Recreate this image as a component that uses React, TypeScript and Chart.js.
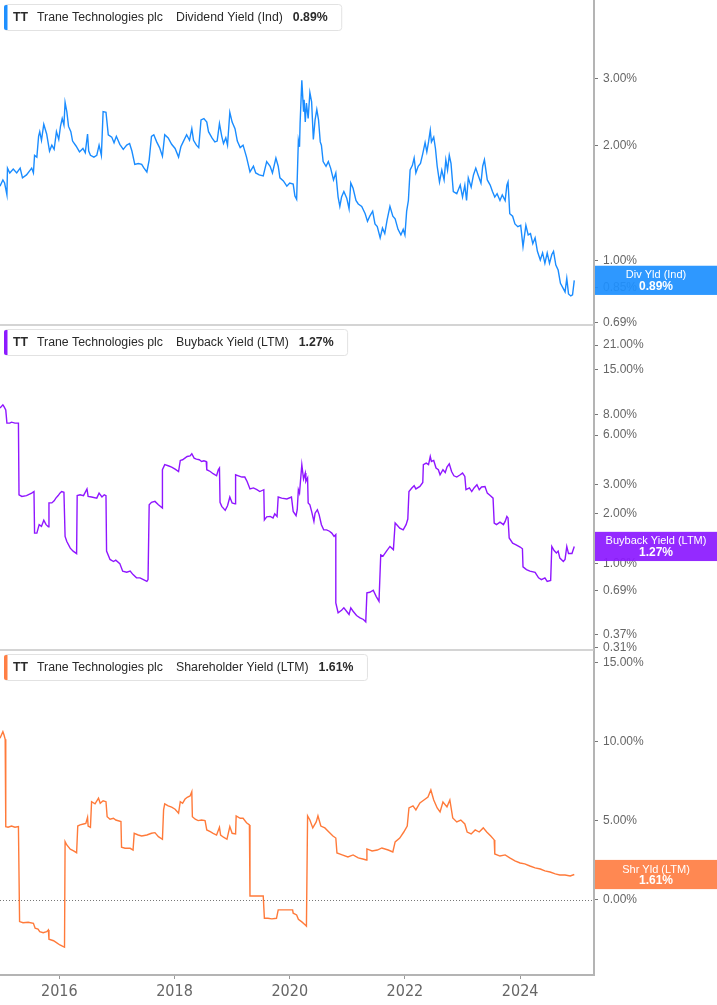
import React, { useEffect, useRef } from 'react';
import { Chart, registerables } from 'chart.js';

Chart.register(...registerables);

// ---------- DATA (decimal year, percent) ----------
const dividendYield: [number, number][] = [
  [2014.97,1.57],[2015.02,1.63],[2015.05,1.60],[2015.09,1.49],[2015.10,1.75],[2015.14,1.70],[2015.20,1.74],[2015.26,1.70],[2015.32,1.75],[2015.36,1.65],[2015.43,1.68],[2015.52,1.75],[2015.55,1.70],[2015.57,1.89],[2015.61,1.87],[2015.64,2.12],[2015.66,2.18],[2015.69,2.07],[2015.73,2.28],[2015.78,2.15],[2015.83,1.94],[2015.87,2.01],[2015.91,1.96],[2015.95,2.18],[2015.99,2.08],
  [2016.02,2.25],[2016.05,2.36],[2016.08,2.27],[2016.10,2.60],[2016.13,2.46],[2016.16,2.25],[2016.20,2.18],[2016.23,2.06],[2016.29,2.00],[2016.35,1.93],[2016.41,1.97],[2016.45,1.92],[2016.49,2.15],[2016.51,1.94],[2016.54,1.89],[2016.60,1.87],[2016.65,1.89],[2016.69,2.01],[2016.73,1.89],[2016.76,2.46],[2016.81,2.45],[2016.85,2.14],[2016.91,2.11],[2016.95,2.04],[2016.99,2.12],
  [2017.05,2.02],[2017.11,1.96],[2017.17,2.01],[2017.22,2.03],[2017.26,1.94],[2017.31,1.79],[2017.37,1.80],[2017.43,1.79],[2017.47,1.75],[2017.52,1.71],[2017.56,1.84],[2017.60,2.12],[2017.64,2.14],[2017.69,2.05],[2017.74,1.98],[2017.79,1.88],[2017.83,2.14],[2017.89,2.10],[2017.95,2.02],
  [2018.01,1.97],[2018.07,1.87],[2018.11,1.99],[2018.15,2.05],[2018.21,2.14],[2018.26,2.07],[2018.30,2.22],[2018.33,2.07],[2018.38,2.01],[2018.42,1.98],[2018.46,2.34],[2018.51,2.36],[2018.56,2.31],[2018.59,2.18],[2018.65,2.10],[2018.70,2.05],[2018.74,2.06],[2018.78,2.29],[2018.82,2.12],[2018.85,2.03],[2018.89,2.10],[2018.92,2.01],[2018.96,2.45],
  [2019.00,2.31],[2019.05,2.22],[2019.09,2.06],[2019.14,1.98],[2019.19,2.01],[2019.25,1.87],[2019.31,1.71],[2019.37,1.77],[2019.41,1.70],[2019.47,1.68],[2019.54,1.67],[2019.60,1.82],[2019.66,1.77],[2019.70,1.70],[2019.76,1.86],[2019.80,1.77],[2019.83,1.65],[2019.89,1.62],[2019.95,1.57],
  [2020.00,1.60],[2020.06,1.59],[2020.09,1.48],[2020.12,1.45],[2020.15,2.07],[2020.17,1.99],[2020.18,2.29],[2020.21,2.97],[2020.24,2.46],[2020.25,2.64],[2020.27,2.31],[2020.29,2.59],[2020.32,2.36],[2020.35,2.76],[2020.38,2.61],[2020.41,2.08],[2020.44,2.34],[2020.47,2.49],[2020.50,2.34],[2020.53,2.05],[2020.55,2.01],[2020.58,1.82],[2020.63,1.77],[2020.67,1.82],[2020.71,1.75],[2020.76,1.63],[2020.80,1.70],[2020.84,1.47],[2020.87,1.39],[2020.90,1.47],[2020.94,1.52],[2020.99,1.46],
  [2021.03,1.37],[2021.06,1.60],[2021.10,1.55],[2021.15,1.44],[2021.19,1.41],[2021.25,1.39],[2021.31,1.33],[2021.35,1.27],[2021.39,1.31],[2021.44,1.35],[2021.48,1.25],[2021.52,1.23],[2021.57,1.15],[2021.61,1.22],[2021.65,1.18],[2021.69,1.28],[2021.74,1.39],[2021.79,1.31],[2021.83,1.29],[2021.88,1.21],[2021.93,1.17],[2021.97,1.21],
  [2022.00,1.17],[2022.03,1.35],[2022.06,1.44],[2022.09,1.73],[2022.13,1.78],[2022.16,1.86],[2022.19,1.70],[2022.23,1.77],[2022.27,1.80],[2022.31,1.91],[2022.35,2.04],[2022.38,1.93],[2022.41,2.05],[2022.44,2.20],[2022.46,2.05],[2022.50,2.11],[2022.53,1.97],[2022.56,1.77],[2022.60,1.61],[2022.64,1.73],[2022.68,1.63],[2022.71,1.84],[2022.74,1.73],[2022.77,1.89],[2022.80,1.80],[2022.84,1.52],[2022.90,1.50],[2022.96,1.58],
  [2023.00,1.47],[2023.04,1.58],[2023.07,1.44],[2023.10,1.65],[2023.15,1.56],[2023.19,1.68],[2023.23,1.75],[2023.27,1.68],[2023.32,1.60],[2023.35,1.77],[2023.38,1.84],[2023.43,1.63],[2023.48,1.58],[2023.52,1.52],[2023.56,1.47],[2023.60,1.50],[2023.65,1.44],[2023.69,1.49],[2023.74,1.44],[2023.77,1.58],[2023.79,1.61],[2023.82,1.33],[2023.87,1.31],[2023.91,1.25],[2023.96,1.23],
  [2024.01,1.24],[2024.05,1.09],[2024.10,1.24],[2024.14,1.17],[2024.18,1.18],[2024.22,1.11],[2024.26,1.15],[2024.30,1.06],[2024.35,1.006],[2024.39,1.05],[2024.43,0.986],[2024.47,1.05],[2024.51,0.986],[2024.55,1.04],[2024.58,1.06],[2024.62,0.976],[2024.66,0.947],[2024.70,0.874],[2024.75,0.847],[2024.78,0.83],[2024.81,0.90],[2024.84,0.82],[2024.88,0.81],[2024.91,0.815],[2024.94,0.89],
];

const buybackYield: [number, number][] = [
  [2014.97,8.73],[2015.02,9.14],[2015.04,8.92],[2015.07,8.52],[2015.09,7.08],[2015.14,7.08],[2015.17,7.18],[2015.23,7.08],[2015.29,7.08],[2015.30,2.61],[2015.35,2.55],[2015.43,2.58],[2015.52,2.67],[2015.56,2.73],[2015.57,1.53],[2015.61,1.53],[2015.65,1.72],[2015.69,1.68],[2015.73,1.83],[2015.77,1.72],[2015.81,1.67],[2015.82,2.33],[2015.87,2.33],[2015.91,2.40],[2015.94,2.49],[2015.98,2.58],
  [2016.01,2.67],[2016.04,2.73],[2016.08,2.70],[2016.10,1.46],[2016.13,1.36],[2016.19,1.24],[2016.24,1.19],[2016.30,1.15],[2016.31,2.58],[2016.36,2.61],[2016.42,2.58],[2016.48,2.83],[2016.50,2.55],[2016.56,2.53],[2016.65,2.49],[2016.69,2.67],[2016.74,2.53],[2016.78,2.61],[2016.81,2.58],[2016.82,1.19],[2016.88,1.06],[2016.94,1.03],[2016.98,1.05],
  [2017.05,1.00],[2017.10,0.90],[2017.17,0.886],[2017.23,0.90],[2017.28,0.858],[2017.34,0.82],[2017.40,0.82],[2017.46,0.80],[2017.52,0.78],[2017.54,0.80],[2017.56,2.27],[2017.60,2.35],[2017.66,2.38],[2017.72,2.27],[2017.79,2.17],[2017.79,3.70],[2017.83,3.97],[2017.89,3.91],[2017.95,3.84],
  [2018.01,3.73],[2018.07,3.61],[2018.10,4.21],[2018.14,4.25],[2018.18,4.35],[2018.22,4.45],[2018.27,4.49],[2018.30,4.62],[2018.34,4.35],[2018.38,4.29],[2018.43,4.25],[2018.47,4.15],[2018.51,4.19],[2018.55,4.15],[2018.56,3.70],[2018.62,3.61],[2018.67,3.50],[2018.73,3.40],[2018.76,3.70],[2018.78,3.79],[2018.79,2.35],[2018.82,2.22],[2018.88,2.10],[2018.92,2.24],[2018.96,2.53],
  [2019.00,2.33],[2019.05,2.30],[2019.06,3.45],[2019.11,3.40],[2019.17,3.34],[2019.22,3.34],[2019.26,3.14],[2019.31,2.83],[2019.37,2.87],[2019.43,2.80],[2019.48,2.73],[2019.55,2.80],[2019.56,1.84],[2019.60,1.92],[2019.66,1.93],[2019.71,1.89],[2019.74,2.00],[2019.78,1.93],[2019.80,2.53],[2019.86,2.49],[2019.95,2.46],
  [2020.03,2.53],[2020.06,2.07],[2020.11,1.95],[2020.13,2.12],[2020.15,2.80],[2020.17,2.67],[2020.21,3.97],[2020.24,3.25],[2020.27,3.53],[2020.28,3.14],[2020.31,3.30],[2020.32,2.33],[2020.35,2.27],[2020.38,2.07],[2020.42,1.80],[2020.44,2.02],[2020.48,2.12],[2020.51,1.98],[2020.55,1.72],[2020.59,1.60],[2020.64,1.60],[2020.69,1.57],[2020.73,1.53],[2020.77,1.46],[2020.80,1.50],[2020.80,0.579],[2020.84,0.504],[2020.90,0.522],[2020.94,0.54],
  [2021.00,0.508],[2021.03,0.492],[2021.06,0.54],[2021.10,0.515],[2021.16,0.485],[2021.22,0.47],[2021.28,0.459],[2021.32,0.444],[2021.34,0.665],[2021.39,0.671],[2021.45,0.69],[2021.50,0.634],[2021.55,0.592],[2021.58,1.13],[2021.62,1.11],[2021.68,1.19],[2021.74,1.27],[2021.80,1.215],[2021.83,1.76],[2021.87,1.70],[2021.91,1.64],[2021.97,1.60],
  [2022.02,1.72],[2022.05,1.86],[2022.07,2.73],[2022.12,2.87],[2022.16,2.96],[2022.19,2.83],[2022.26,2.93],[2022.31,3.10],[2022.32,3.97],[2022.37,4.06],[2022.41,3.97],[2022.44,4.45],[2022.46,4.15],[2022.50,4.21],[2022.54,3.79],[2022.58,3.70],[2022.61,3.45],[2022.66,3.70],[2022.70,3.56],[2022.73,3.84],[2022.77,4.02],[2022.81,3.61],[2022.85,3.40],[2022.90,3.34],[2022.96,3.45],
  [2023.00,3.53],[2023.04,3.37],[2023.06,2.80],[2023.12,2.87],[2023.16,2.73],[2023.20,2.87],[2023.25,3.00],[2023.29,2.80],[2023.33,2.91],[2023.39,2.93],[2023.43,2.67],[2023.48,2.58],[2023.53,2.49],[2023.55,1.76],[2023.59,1.72],[2023.65,1.78],[2023.71,1.72],[2023.74,1.80],[2023.77,1.93],[2023.79,1.89],[2023.81,1.43],[2023.87,1.33],[2023.93,1.30],
  [2024.00,1.26],[2024.04,1.23],[2024.05,0.955],[2024.11,0.92],[2024.17,0.90],[2024.26,0.886],[2024.32,0.82],[2024.37,0.80],[2024.43,0.82],[2024.47,0.78],[2024.53,0.79],[2024.55,1.27],[2024.59,1.20],[2024.63,1.16],[2024.66,1.19],[2024.69,1.08],[2024.75,1.03],[2024.78,1.06],[2024.81,1.27],[2024.84,1.15],[2024.90,1.15],[2024.94,1.27],
];

const shareholderYield: [number, number][] = [
  [2014.97,10.23],[2015.02,10.65],[2015.04,10.44],[2015.06,10.17],[2015.07,4.64],[2015.11,4.60],[2015.17,4.68],[2015.23,4.60],[2015.29,4.64],[2015.31,-1.37],[2015.37,-1.44],[2015.46,-1.41],[2015.55,-1.48],[2015.58,-1.79],[2015.63,-1.85],[2015.66,-2.01],[2015.72,-2.07],[2015.78,-2.01],[2015.81,-1.90],[2015.82,-2.49],[2015.90,-2.58],[2015.95,-2.70],
  [2016.01,-2.85],[2016.07,-2.96],[2016.09,-2.99],[2016.10,3.69],[2016.13,3.48],[2016.19,3.21],[2016.24,3.12],[2016.30,2.99],[2016.32,4.68],[2016.36,4.75],[2016.42,4.81],[2016.46,4.85],[2016.49,5.23],[2016.50,4.68],[2016.54,4.60],[2016.56,6.22],[2016.62,6.08],[2016.68,6.44],[2016.71,6.12],[2016.76,6.28],[2016.81,6.22],[2016.83,5.27],[2016.88,5.11],[2016.94,5.17],[2016.98,5.06],
  [2017.07,4.96],[2017.08,3.34],[2017.14,3.27],[2017.23,3.27],[2017.28,3.16],[2017.30,4.22],[2017.37,4.11],[2017.43,4.05],[2017.52,4.11],[2017.60,4.22],[2017.66,4.26],[2017.72,4.01],[2017.79,3.84],[2017.81,5.70],[2017.83,6.08],[2017.89,5.95],[2017.95,5.87],
  [2018.01,5.74],[2018.07,5.49],[2018.10,6.22],[2018.14,6.12],[2018.18,6.37],[2018.22,6.50],[2018.27,6.58],[2018.30,6.85],[2018.31,5.27],[2018.36,5.11],[2018.41,5.02],[2018.47,5.06],[2018.53,5.02],[2018.56,4.43],[2018.62,4.32],[2018.67,4.22],[2018.73,4.11],[2018.78,4.60],[2018.80,4.11],[2018.85,3.97],[2018.91,3.84],[2018.96,4.64],
  [2019.00,4.22],[2019.06,4.18],[2019.07,5.32],[2019.14,5.17],[2019.19,5.17],[2019.25,4.89],[2019.30,4.75],[2019.31,0.25],[2019.43,0.25],[2019.54,0.25],[2019.56,-1.16],[2019.62,-1.16],[2019.69,-1.20],[2019.77,-1.16],[2019.80,-0.63],[2019.92,-0.63],
  [2020.05,-0.63],[2020.06,-0.84],[2020.12,-0.95],[2020.15,-1.22],[2020.21,-1.39],[2020.27,-1.58],[2020.29,-1.65],[2020.31,5.32],[2020.35,5.06],[2020.40,4.56],[2020.46,4.94],[2020.49,5.32],[2020.54,4.68],[2020.61,4.56],[2020.68,4.30],[2020.75,4.05],[2020.80,3.92],[2020.82,2.97],[2020.91,2.85],
  [2021.01,2.72],[2021.10,2.85],[2021.19,2.66],[2021.27,2.59],[2021.33,2.53],[2021.34,3.23],[2021.43,3.10],[2021.52,3.16],[2021.60,3.29],[2021.71,3.16],[2021.79,3.04],[2021.83,3.67],[2021.91,3.92],[2021.98,4.30],
  [2022.04,4.68],[2022.07,5.82],[2022.14,5.95],[2022.19,5.70],[2022.26,6.14],[2022.33,6.33],[2022.40,6.52],[2022.45,6.96],[2022.50,6.33],[2022.56,5.82],[2022.61,5.57],[2022.66,6.20],[2022.73,5.89],[2022.78,6.33],[2022.83,5.19],[2022.90,4.94],[2022.97,5.06],
  [2023.04,4.81],[2023.08,4.30],[2023.15,4.18],[2023.22,4.43],[2023.29,4.30],[2023.36,4.56],[2023.42,4.30],[2023.49,4.05],[2023.55,3.80],[2023.56,2.91],[2023.65,2.78],[2023.74,2.85],[2023.82,2.66],[2023.91,2.47],
  [2024.00,2.34],[2024.08,2.28],[2024.17,2.15],[2024.26,2.03],[2024.35,1.96],[2024.43,1.84],[2024.52,1.77],[2024.61,1.65],[2024.69,1.58],[2024.78,1.58],[2024.87,1.52],[2024.94,1.61],
];

const yearTicks = [2016, 2018, 2020, 2022, 2024];
const dividendTicks = [0.69, 0.85, 1, 2, 3];
const buybackTicks = [0.31, 0.37, 0.69, 1, 2, 3, 6, 8, 15, 21];
const shareholderTicks = [0, 5, 10, 15];

const ticker = 'TT';
const company = 'Trane Technologies plc';
const panelTitles = ['Dividend Yield (Ind)', 'Buyback Yield (LTM)', 'Shareholder Yield (LTM)'];
const panelShort = ['Div Yld (Ind)', 'Buyback Yield (LTM)', 'Shr Yld (LTM)'];
const panelColors = ['#1e90ff', '#8c1aff', '#ff7f45'];
const lineColors = ['#1a8cff', '#8f16ff', '#ff7a3a'];

const FONT = "'Liberation Sans', Arial, sans-serif";
const YEAR_FONT = "'Liberation Sans Narrow', 'DejaVu Sans Condensed', 'Liberation Sans', sans-serif";

const fixTicks = (values: number[]) => (scale: any) => {
  scale.ticks = values.map((v) => ({ value: v }));
};
const fitY = (scale: any) => {
  scale.width = 123;
  scale.paddingTop = 0;
  scale.paddingBottom = 0;
};

const yAxis = (type: string, ticks: number[], min: number, max: number) => ({
  type,
  min,
  max,
  position: 'right',
  stack: 'panels',
  stackWeight: 1,
  offset: false,
  afterBuildTicks: fixTicks(ticks),
  afterFit: fitY,
  grid: { drawOnChartArea: false, drawTicks: true, tickLength: 4, tickColor: '#777', tickWidth: 1 },
  border: { display: true, color: '#b4b4b4', width: 2 },
  ticks: {
    color: '#666',
    font: { family: FONT, size: 12 },
    padding: 5,
    autoSkip: false,
    callback: (v: any) => Number(v).toFixed(2) + '%',
  },
});

const overlayPlugin = {
  id: 'panelOverlay',
  beforeDatasetsDraw(chart: any) {
    const { ctx, chartArea } = chart;
    const s1 = chart.scales.y1;
    const s2 = chart.scales.y2;
    const s3 = chart.scales.y3;
    ctx.save();
    ctx.strokeStyle = '#c6c6c6';
    ctx.lineWidth = 1.5;
    [s1.bottom, s2.bottom].forEach((y: number) => {
      ctx.beginPath();
      ctx.moveTo(chartArea.left, y);
      ctx.lineTo(chartArea.right, y);
      ctx.stroke();
    });
    const zy = Math.round(s3.getPixelForValue(0)) + 0.5;
    ctx.strokeStyle = '#777';
    ctx.lineWidth = 1;
    ctx.setLineDash([1, 2]);
    ctx.beginPath();
    ctx.moveTo(chartArea.left, zy);
    ctx.lineTo(chartArea.right, zy);
    ctx.stroke();
    ctx.restore();
  },
  afterDraw(chart: any) {
    const { ctx, chartArea } = chart;
    const scales = [chart.scales.y1, chart.scales.y2, chart.scales.y3];
    const series = [dividendYield, buybackYield, shareholderYield];
    scales.forEach((scale: any, i: number) => {
      const last = series[i][series[i].length - 1][1];
      const valueText = last.toFixed(2) + '%';
      // header box
      ctx.save();
      ctx.font = `12.3px ${FONT}`;
      const titleW = ctx.measureText(panelTitles[i]).width;
      ctx.font = `bold 12.3px ${FONT}`;
      const valW = ctx.measureText(valueText).width;
      const valX = 176 + titleW + 10;
      const bx = 4.5;
      const by = scale.top + 4.5;
      const bw = valX + valW + 14 - bx;
      const bh = 26;
      ctx.fillStyle = '#ffffff';
      ctx.strokeStyle = '#e2e2e2';
      ctx.lineWidth = 1;
      ctx.beginPath();
      (ctx as any).roundRect(bx, by, bw, bh, 3);
      ctx.fill();
      ctx.stroke();
      ctx.fillStyle = panelColors[i];
      ctx.beginPath();
      (ctx as any).roundRect(bx - 0.5, by + 0.5, 3.5, bh - 1, [2, 0, 0, 2]);
      ctx.fill();
      const ty = by + bh / 2 + 0.5;
      ctx.textBaseline = 'middle';
      ctx.textAlign = 'left';
      ctx.fillStyle = '#2a2a2a';
      ctx.font = `bold 12.3px ${FONT}`;
      ctx.fillText(ticker, 13, ty);
      ctx.font = `12.3px ${FONT}`;
      ctx.fillText(company, 37, ty);
      ctx.fillText(panelTitles[i], 176, ty);
      ctx.font = `bold 12.3px ${FONT}`;
      ctx.fillText(valueText, valX, ty);
      // right value box
      const py = scale.getPixelForValue(last);
      const left = chartArea.right + 1;
      const width = chart.width - left;
      ctx.globalAlpha = 0.93;
      ctx.fillStyle = panelColors[i];
      ctx.fillRect(left, py - 14.6, width, 29.2);
      ctx.globalAlpha = 1;
      ctx.fillStyle = '#ffffff';
      ctx.textAlign = 'center';
      const cx = left + width / 2;
      ctx.font = `11px ${FONT}`;
      ctx.fillText(panelShort[i], cx, py - 5);
      ctx.font = `bold 12px ${FONT}`;
      ctx.fillText(valueText, cx, py + 6);
      ctx.restore();
    });
  },
};

export default function App() {
  const canvasRef = useRef<HTMLCanvasElement | null>(null);

  useEffect(() => {
    const canvas = canvasRef.current;
    if (!canvas) return;
    const toPoints = (s: [number, number][]) => s.map(([x, y]) => ({ x, y }));
    const chart = new Chart(canvas, {
      type: 'line',
      data: {
        datasets: [
          { data: toPoints(dividendYield), yAxisID: 'y1', borderColor: lineColors[0], borderWidth: 1.4, pointRadius: 0, tension: 0, fill: false },
          { data: toPoints(buybackYield), yAxisID: 'y2', borderColor: lineColors[1], borderWidth: 1.4, pointRadius: 0, tension: 0, fill: false },
          { data: toPoints(shareholderYield), yAxisID: 'y3', borderColor: lineColors[2], borderWidth: 1.4, pointRadius: 0, tension: 0, fill: false },
        ],
      } as any,
      options: {
        animation: false,
        responsive: false,
        devicePixelRatio: 1,
        layout: { padding: 0, autoPadding: false } as any,
        plugins: { legend: { display: false }, tooltip: { enabled: false } },
        events: [],
        scales: {
          x: {
            type: 'linear',
            min: 2014.97,
            max: 2025.2825,
            afterBuildTicks: fixTicks(yearTicks),
            afterFit: (s: any) => {
              s.height = 30;
              s.paddingLeft = 0;
              s.paddingRight = 0;
            },
            grid: { drawOnChartArea: false, drawTicks: true, tickLength: 4, tickColor: '#999', tickWidth: 1 },
            border: { display: true, color: '#b4b4b4', width: 2 },
            ticks: {
              color: '#666',
              font: { family: YEAR_FONT, size: 16 },
              padding: 3,
              maxRotation: 0,
              autoSkip: false,
              callback: (v: any) => String(v),
            },
          },
          y1: yAxis('logarithmic', dividendTicks, 0.68, 4.82),
          y2: yAxis('logarithmic', buybackTicks, 0.302, 27.8),
          y3: yAxis('linear', shareholderTicks, -4.75, 15.82),
        } as any,
      },
      plugins: [overlayPlugin as any],
    });
    return () => chart.destroy();
  }, []);

  return (
    <div style={{ position: 'absolute', left: 0, top: 0, width: 717, height: 1005, background: '#fff' }}>
      <canvas ref={canvasRef} width={717} height={1005} style={{ width: 717, height: 1005, display: 'block' }} />
    </div>
  );
}
